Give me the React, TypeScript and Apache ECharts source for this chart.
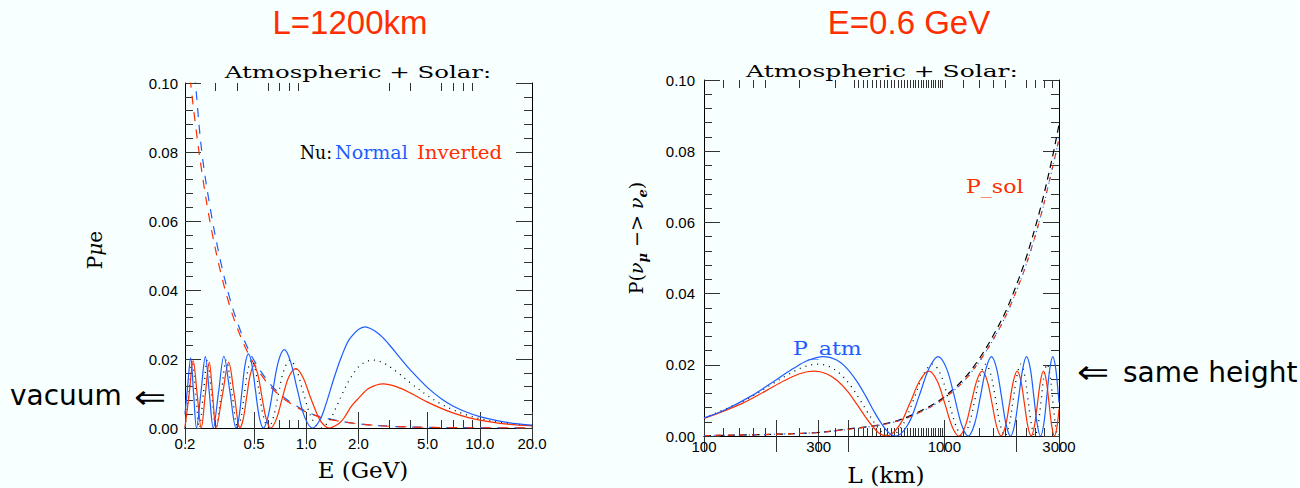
import React, { useEffect, useRef } from "react";
import * as echarts from "echarts";

const BLUE = "#1f5cff";
const RED = "#ff2e00";
const BG = "#f7ffff";

// ---- ticks ----
const leftXMajor = [0.2, 0.5, 1, 2, 5, 10, 20];
const leftXMinor = [0.3, 0.4, 0.6, 0.7, 0.8, 0.9, 3, 4, 6, 7, 8, 9];
const leftXLabels = [0.2, 0.5, 1, 2, 5, 10, 20];
const rightXMajor = [100, 200, 300, 400, 1000, 2000, 3000];
const rightXMinor = [120, 140, 160, 180, 250, 350, 420, 440, 460, 480, 500, 520, 540, 560, 580, 600, 620, 640, 660, 680, 700, 720, 740, 760, 780, 800, 820, 840, 860, 880, 900, 920, 940, 960, 980, 1200, 1400, 1600, 1800, 2200, 2400, 2600, 2800];
const rightXLabels = [100, 300, 1000, 3000];

// ---- left panel: L = 1200 km, P vs E (GeV) ----
const leftNormal = [
  [0.2, 0.004], [0.2075, 0.0125], [0.2155, 0.0203], [0.2241, 0.0101], [0.233, 0],
  [0.2471, 0.0103], [0.262, 0.0207], [0.2761, 0.0103], [0.291, 0],
  [0.3122, 0.0104], [0.335, 0.0208], [0.3633, 0.0104], [0.394, 0],
  [0.4095, 0.0031], [0.4261, 0.01075], [0.4442, 0.0184], [0.464, 0.0215], [0.4859, 0.0184], [0.51, 0.01075], [0.5365, 0.0031], [0.566, 0],
  [0.602, 0.0033], [0.644, 0.01135], [0.6916, 0.0194], [0.747, 0.0227], [0.81, 0.0194], [0.886, 0.01135], [0.9766, 0.0033], [1.088, 0],
  [1.2, 0.0024], [1.3, 0.007], [1.45, 0.0147], [1.6, 0.0208], [1.8, 0.0262], [2.18, 0.0293], [2.6, 0.0274], [3.0, 0.0242],
  [3.5, 0.0201], [4.0, 0.0167], [5.0, 0.0117], [6.0, 0.0085], [7.0, 0.0064], [8.5, 0.0045], [10, 0.0033], [14, 0.0017], [20, 0.00085],
];
const leftInverted = [
  [0.2, 0.0003], [0.2112, 0.0097], [0.223, 0.0195], [0.2352, 0.0097], [0.248, 0],
  [0.2616, 0.0095], [0.276, 0.019], [0.2887, 0.0095], [0.302, 0],
  [0.3284, 0.0095], [0.357, 0.019], [0.3849, 0.0095], [0.415, 0],
  [0.4334, 0.00265], [0.4535, 0.00905], [0.4756, 0.01545], [0.5, 0.0181], [0.5261, 0.01545], [0.5551, 0.00905], [0.5875, 0.00265], [0.624, 0],
  [0.6714, 0.0025], [0.7267, 0.0086], [0.792, 0.0147], [0.87, 0.0172], [0.9565, 0.0147], [1.0616, 0.0086], [1.1926, 0.0025], [1.28, 0.0006], [1.36, 0],
  [1.45, 0.0005], [1.55, 0.0014], [1.65, 0.0029], [1.826, 0.0064], [2.0, 0.0086], [2.3, 0.0115], [2.78, 0.0128], [3.3, 0.012],
  [4, 0.0101], [5, 0.0075], [6, 0.0057], [7, 0.0044], [8.5, 0.0031], [10, 0.0023], [14, 0.0012], [20, 0.0006],
];
const leftVacuum = [
  [0.2, 0.0001], [0.2016, 0], [0.2106, 0.0099], [0.22, 0.0197], [0.2307, 0.0099], [0.242, 0],
  [0.2551, 0.0099], [0.269, 0.0197], [0.285, 0.0099], [0.302, 0],
  [0.3233, 0.0099], [0.346, 0.0197], [0.3734, 0.0099], [0.403, 0],
  [0.4207, 0.0029], [0.44, 0.00985], [0.4608, 0.0168], [0.484, 0.0197], [0.5094, 0.0168], [0.5376, 0.00985], [0.5695, 0.0029], [0.605, 0],
  [0.645, 0.0029], [0.691, 0.00985], [0.744, 0.0168], [0.806, 0.0197], [0.8787, 0.0168], [0.9667, 0.00985], [1.074, 0.0029], [1.21, 0],
  [1.35, 0.002], [1.5, 0.0064], [1.613, 0.0099], [1.8, 0.0145], [2.05, 0.0182], [2.42, 0.0197], [2.8, 0.0188], [3.3, 0.0164],
  [4, 0.013], [5, 0.0094], [6, 0.0069], [7, 0.0053], [8.5, 0.0037], [10, 0.0027], [14, 0.0014], [20, 0.0007],
];
const leftSolarInverted = [
  [0.2, 0.116], [0.2155, 0.1], [0.23, 0.0878], [0.25, 0.0743], [0.28, 0.0592], [0.32, 0.0454], [0.36, 0.0358],
  [0.4, 0.029], [0.45, 0.0229], [0.5, 0.0186], [0.6, 0.0129], [0.7, 0.0095], [0.8, 0.0073], [1.0, 0.0046],
  [1.2, 0.0032], [1.5, 0.0021], [2, 0.0012], [3, 0.0005], [5, 0.0002], [10, 0.00005], [20, 0.00001],
];
const leftSolarNormal = [
  [0.2, 0.132], [0.2297, 0.1], [0.25, 0.08], [0.28, 0.0635], [0.32, 0.0485], [0.36, 0.0381],
  [0.4, 0.0307], [0.45, 0.0242], [0.5, 0.0196], [0.6, 0.0136], [0.7, 0.01], [0.8, 0.0077], [1.0, 0.0048],
  [1.2, 0.0033], [1.5, 0.0022], [2, 0.0012], [3, 0.0005], [5, 0.0002], [10, 0.00005], [20, 0.00001],
];

// ---- right panel: E = 0.6 GeV, P vs L (km) ----
const rightNormal = [
  [100, 0.0051], [120, 0.0071], [157, 0.0112], [200, 0.0158], [236, 0.019], [270, 0.0212], [314, 0.0223], [355, 0.0214],
  [393, 0.019], [432, 0.0154], [471, 0.0112], [510, 0.0069], [550, 0.0033], [590, 0.0008], [628, 0],
  [707, 0.0033], [785, 0.0112], [864, 0.019], [942, 0.0223], [1021, 0.019], [1100, 0.0112], [1178, 0.0033], [1257, 0],
  [1335, 0.0033], [1414, 0.0112], [1492, 0.019], [1571, 0.0223], [1649, 0.019], [1728, 0.0112], [1806, 0.0033], [1885, 0],
  [1963, 0.0033], [2042, 0.0112], [2121, 0.019], [2199, 0.0223], [2278, 0.019], [2356, 0.0112], [2435, 0.0033], [2513, 0],
  [2592, 0.0033], [2670, 0.0112], [2749, 0.019], [2827, 0.0223], [2906, 0.019], [2985, 0.0112], [3000, 0.0094],
];
const rightInverted = [
  [100, 0.0049], [143.6, 0.0091], [180, 0.0126], [215.4, 0.0155], [250, 0.0175], [287.2, 0.0182], [323, 0.0175],
  [359, 0.0155], [395, 0.0126], [430.8, 0.0091], [467, 0.0056], [502.6, 0.0027], [540, 0.0006], [574.4, 0],
  [646, 0.0027], [718, 0.0091], [790, 0.0155], [862, 0.0182], [933, 0.0155], [1005, 0.0091], [1077, 0.0027], [1149, 0],
  [1221, 0.0027], [1292, 0.0091], [1364, 0.0155], [1436, 0.0182], [1508, 0.0155], [1580, 0.0091], [1651, 0.0027], [1723, 0],
  [1795, 0.0027], [1867, 0.0091], [1939, 0.0155], [2010, 0.0182], [2082, 0.0155], [2154, 0.0091], [2226, 0.0027], [2298, 0],
  [2369, 0.0027], [2441, 0.0091], [2513, 0.0155], [2585, 0.0182], [2657, 0.0155], [2728, 0.0091], [2800, 0.0027], [2872, 0],
  [2944, 0.0027], [3000, 0.0076],
];
const rightVacuum = [
  [100, 0.0051], [148.8, 0.0101], [190, 0.0144], [223.1, 0.0172], [260, 0.0194], [297.5, 0.0202], [335, 0.0194],
  [371.9, 0.0172], [409, 0.014], [446.3, 0.0101], [483, 0.0063], [520.7, 0.003], [558, 0.0007], [595, 0],
  [669.4, 0.003], [743.8, 0.0101], [818.2, 0.0172], [892.6, 0.0202], [967, 0.0172], [1041, 0.0101], [1116, 0.003], [1190, 0],
  [1264, 0.003], [1339, 0.0101], [1413, 0.0172], [1488, 0.0202], [1562, 0.0172], [1636, 0.0101], [1711, 0.003], [1785, 0],
  [1860, 0.003], [1934, 0.0101], [2008, 0.0172], [2083, 0.0202], [2157, 0.0172], [2231, 0.0101], [2306, 0.003], [2380, 0],
  [2454, 0.003], [2529, 0.0101], [2603, 0.0172], [2678, 0.0202], [2752, 0.0172], [2826, 0.0101], [2901, 0.003], [2975, 0],
  [3000, 0.0004],
];
const rightSolarBlack = [
  [100, 0.0001], [200, 0.0005], [300, 0.001], [400, 0.002], [500, 0.0028], [600, 0.0038], [700, 0.0053], [800, 0.0071],
  [900, 0.0089], [1000, 0.011], [1200, 0.0159], [1400, 0.0218], [1600, 0.0283], [1800, 0.035], [2000, 0.0426],
  [2200, 0.0505], [2500, 0.0635], [2800, 0.0775], [3000, 0.0875],
];
const rightSolarRed = [
  [100, 0.0001], [200, 0.0005], [300, 0.001], [400, 0.0019], [500, 0.0027], [600, 0.0037], [700, 0.0051], [800, 0.0068],
  [900, 0.0086], [1000, 0.0106], [1200, 0.0153], [1400, 0.021], [1600, 0.0272], [1800, 0.0337], [2000, 0.041],
  [2200, 0.0485], [2500, 0.061], [2800, 0.0745], [3000, 0.0835],
];
const rightSolarBlue = rightSolarRed;

const SERIF = "DejaVu Serif";
const SANS = "DejaVu Sans";
const NUM = "Liberation Sans";

function xAxes(gridIndex: number, min: number, max: number, major: number[], minor: number[], labels: number[], fmt: (v: number) => string, labelMargin: number) {
  const base: any = {
    type: "log",
    logBase: 10,
    gridIndex,
    min,
    max,
    splitLine: { show: false },
    minorTick: { show: false },
    axisLine: { show: true, lineStyle: { color: "#000", width: 1 } },
  };
  const tick = (len: number, vals: number[]) => ({ show: true, inside: true, length: len, customValues: vals, lineStyle: { color: "#333", width: 1 } });
  return [
    {
      ...base,
      position: "bottom",
      axisTick: tick(16, major),
      axisLabel: { show: true, customValues: labels, formatter: fmt, margin: labelMargin, fontFamily: NUM, fontSize: 15, color: "#000" },
    },
    { ...base, position: "top", axisTick: tick(16, major), axisLabel: { show: false } },
    { ...base, position: "bottom", axisLine: { show: false }, axisTick: tick(8, minor), axisLabel: { show: false } },
    { ...base, position: "top", axisLine: { show: false }, axisTick: tick(8, minor), axisLabel: { show: false } },
  ];
}

function yAxes(gridIndex: number, labelMargin: number) {
  const base: any = {
    type: "value",
    gridIndex,
    min: 0,
    max: 0.1,
    interval: 0.02,
    splitLine: { show: false },
    minorSplitLine: { show: false },
    axisLine: { show: true, lineStyle: { color: "#000", width: 1 } },
    axisTick: { show: true, inside: true, length: 16, lineStyle: { color: "#333", width: 1 } },
    minorTick: { show: true, splitNumber: 5, length: 8, lineStyle: { color: "#333", width: 1 } },
  };
  return [
    { ...base, position: "left", axisLabel: { show: true, margin: labelMargin, formatter: (v: number) => v.toFixed(2), fontFamily: NUM, fontSize: 15, color: "#000" } },
    { ...base, position: "right", axisLabel: { show: false } },
  ];
}

function line(data: number[][], color: string, xi: number, yi: number, type: any, width = 1.2, z = 2) {
  return {
    type: "line",
    data,
    xAxisIndex: xi,
    yAxisIndex: yi,
    symbol: "none",
    showSymbol: false,
    smooth: 0.35,
    clip: true,
    silent: true,
    z,
    lineStyle: { color, width, type },
  };
}

function txt(text: string, x: number, y: number, opts: any = {}) {
  const { scaleX = 1, rotation = 0, ...style } = opts;
  return {
    type: "text",
    x,
    y,
    scaleX,
    rotation,
    silent: true,
    style: { text, fill: "#000", fontFamily: SERIF, fontSize: 18, align: "center", verticalAlign: "middle", ...style },
  };
}

export default function App() {
  const ref = useRef<HTMLDivElement>(null);
  useEffect(() => {
    if (!ref.current) return;
    const chart = echarts.init(ref.current, undefined, { renderer: "svg" });
    const option: any = {
      animation: false,
      backgroundColor: BG,
      grid: [
        { left: 185, top: 83, width: 347, height: 345, containLabel: false },
        { left: 704, top: 80, width: 355, height: 356, containLabel: false },
      ],
      xAxis: [
        ...xAxes(0, 0.2, 20, leftXMajor, leftXMinor, leftXLabels, (v: number) => v.toFixed(1), 8),
        ...xAxes(1, 100, 3000, rightXMajor, rightXMinor, rightXLabels, (v: number) => String(Math.round(v)), 3),
      ],
      yAxis: [...yAxes(0, 7), ...yAxes(1, 9)],
      series: [
        line(leftSolarNormal, BLUE, 0, 0, [9, 8]),
        line(leftSolarInverted, RED, 0, 0, [9, 8]),
        line(leftVacuum, "#000", 0, 0, [1, 5], 1.3),
        line(leftInverted, RED, 0, 0, "solid"),
        line(leftNormal, BLUE, 0, 0, "solid"),
        line(rightSolarBlack, "#000", 4, 2, [7, 5]),
        line(rightSolarRed, RED, 4, 2, [5, 7]),
        line(rightSolarBlue, BLUE, 4, 2, [1, 4], 1.3),
        line(rightVacuum, "#000", 4, 2, [1, 5], 1.3),
        line(rightInverted, RED, 4, 2, "solid"),
        line(rightNormal, BLUE, 4, 2, "solid"),
      ],
      graphic: [
        txt("L=1200km", 350, 22, { fontFamily: NUM, fontSize: 33, fill: RED }),
        txt("E=0.6 GeV", 909, 22, { fontFamily: NUM, fontSize: 33, fill: RED }),
        txt("Atmospheric + Solar:", 358, 72.8, { fontSize: 16, scaleX: 1.53 }),
        txt("Atmospheric + Solar:", 882, 71.2, { fontSize: 16, scaleX: 1.56 }),
        txt("Nu:", 300, 152.8, { align: "left", scaleX: 0.96 }),
        txt("Normal", 335, 152.8, { align: "left", fill: BLUE, scaleX: 1.06 }),
        txt("Inverted", 417, 152.8, { align: "left", fill: RED, scaleX: 1.1 }),
        txt("P_sol", 966, 186.7, { align: "left", fill: RED, fontSize: 19, scaleX: 1.16 }),
        txt("P_atm", 793, 348.4, { align: "left", fill: BLUE, fontSize: 19, scaleX: 1.16 }),
        txt("E (GeV)", 363, 470, { fontSize: 23 }),
        txt("L (km)", 886, 475, { fontSize: 22, scaleX: 1.06 }),
        {
          type: "text",
          x: 95,
          y: 250,
          rotation: Math.PI / 2,
          silent: true,
          style: {
            text: "{n|P}{i|μ}{n|e}",
            align: "center",
            verticalAlign: "middle",
            rich: {
              n: { fontFamily: SERIF, fontSize: 20, fill: "#000" },
              i: { fontFamily: SERIF, fontSize: 20, fontStyle: "italic", fill: "#000" },
            },
          },
        },
        {
          type: "text",
          x: 636,
          y: 238,
          rotation: Math.PI / 2,
          silent: true,
          style: {
            text: "{n|P(}{i|ν}{s|μ}{n| −> }{i|ν}{s|e}{n|)}",
            align: "center",
            verticalAlign: "middle",
            rich: {
              n: { fontFamily: SERIF, fontSize: 19, fill: "#000", lineHeight: 26, verticalAlign: "middle" },
              i: { fontFamily: SERIF, fontSize: 19, fontStyle: "italic", fill: "#000", lineHeight: 26, verticalAlign: "middle" },
              s: { fontFamily: SERIF, fontSize: 13, fontStyle: "italic", fontWeight: "bold", fill: "#000", lineHeight: 13, verticalAlign: "bottom" },
            },
          },
        },
        txt("vacuum", 10, 395.3, { fontFamily: SANS, fontSize: 28, align: "left" }),
        txt("⇐", 150, 396.5, { fontFamily: SANS, fontSize: 32, scaleX: 1.2 }),
        txt("⇐", 1093, 371.7, { fontFamily: SANS, fontSize: 32, scaleX: 1.2 }),
        txt("same height", 1123, 372, { fontFamily: SANS, fontSize: 28, align: "left" }),
      ],
    };
    chart.setOption(option);
    return () => chart.dispose();
  }, []);
  return (
    <div
      ref={ref}
      style={{ position: "fixed", left: 0, top: 0, width: 1300, height: 488, background: BG }}
    />
  );
}
